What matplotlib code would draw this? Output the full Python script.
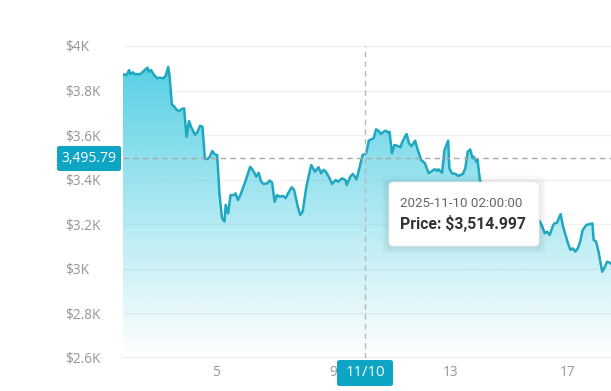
import numpy as np
import pandas as pd
import matplotlib
matplotlib.use("Agg")
import matplotlib.pyplot as plt
import matplotlib.dates as mdates
from matplotlib.patches import FancyBboxPatch
from matplotlib.ticker import FixedLocator

# ---- data ----
# hours since 2025-11-01 00:00
hours = [20, 23, 25, 26, 28, 30, 32, 34, 37, 40, 41, 43, 45, 48, 50, 53, 55, 57, 58, 60,
         62, 64, 66, 68, 70, 72, 74, 76, 79, 81, 83, 85, 87, 89, 91, 93, 95, 97, 99, 101,
         103, 104, 106, 108, 111, 112, 114, 116, 120, 124, 127, 129, 131, 133, 135, 138, 140, 142, 144, 146,
         148, 151, 153, 155, 158, 160, 163, 165, 167, 170, 173, 174, 177, 180, 182, 184, 186, 189, 191, 194,
         196, 199, 202, 203, 206, 208, 211, 213, 216, 218, 219, 221, 223, 225, 227, 229, 231, 233, 235, 237,
         238, 240, 242, 245, 247, 248, 250, 252, 254, 256, 259, 261, 264, 267, 270, 272, 275, 277, 278, 281,
         283, 286, 287, 289, 292, 294, 296, 298, 300, 302, 304, 306, 307, 309, 310, 312, 317, 322, 328, 335,
         341, 348, 355, 361, 363, 365, 367, 369, 372, 373, 375, 378, 380, 382, 384, 386, 388, 390, 392, 394,
         396, 399, 402, 404, 405, 407, 409, 412, 414, 416, 418, 420]
prices = [3873, 3870, 3892, 3874, 3882, 3873, 3874, 3873, 3888, 3903, 3885, 3892, 3873, 3855, 3858, 3855, 3867, 3906, 3870, 3738,
          3728, 3713, 3708, 3717, 3720, 3593, 3663, 3633, 3601, 3615, 3642, 3638, 3493, 3493, 3503, 3529, 3514, 3511, 3331, 3227,
          3212, 3287, 3249, 3331, 3331, 3339, 3309, 3331, 3391, 3458, 3436, 3414, 3431, 3391, 3381, 3384, 3396, 3387, 3301, 3331,
          3324, 3327, 3317, 3339, 3366, 3354, 3279, 3242, 3257, 3369, 3444, 3466, 3436, 3456, 3429, 3444, 3436, 3406, 3381, 3399,
          3391, 3406, 3399, 3376, 3414, 3426, 3402, 3444, 3511, 3515, 3519, 3575, 3581, 3586, 3626, 3620, 3605, 3615, 3620, 3611,
          3615, 3519, 3556, 3551, 3545, 3563, 3586, 3605, 3563, 3551, 3575, 3536, 3488, 3474, 3429, 3436, 3447, 3440, 3447, 3431,
          3533, 3575, 3451, 3429, 3426, 3417, 3421, 3426, 3451, 3526, 3536, 3496, 3503, 3481, 3492, 3396, 3354, 3309, 3327, 3287,
          3264, 3282, 3246, 3212, 3189, 3160, 3167, 3152, 3197, 3204, 3207, 3246, 3189, 3152, 3115, 3085, 3092, 3077, 3092, 3122,
          3174, 3197, 3201, 3204, 3130, 3122, 3077, 2987, 3007, 3032, 3028, 3020]

y_ticks = [2600, 2800, 3000, 3200, 3400, 3600, 3800, 4000]
y_labels = ["$2.6K", "$2.8K", "$3K", "$3.2K", "$3.4K", "$3.6K", "$3.8K", "$4K"]
x_days = [5, 9, 13, 17]

cross_time = "2025-11-10 02:00:00"
cross_price = 3514.997
h_line_price = 3495.79

start = pd.Timestamp("2025-11-01")
times = start + pd.to_timedelta(hours, unit="h")
tnum = mdates.date2num(times)

W, H = 611, 391
fig = plt.figure(figsize=(W / 100, H / 100), dpi=100)


def fx(x):
    return x / W


def fy(y):
    return 1 - y / H


ax = fig.add_axes([fx(123), fy(358), fx(611) - fx(123), fy(46) - fy(358)])
xmax = mdates.date2num(start + pd.Timedelta(hours=419.2))

for s in ax.spines.values():
    s.set_visible(False)
ax.axhline(2600, color="#e4e4e4", lw=1.2, zorder=1)
for v in y_ticks[1:]:
    ax.axhline(v, color="#f0f0f0", lw=1, zorder=0)

# gradient area
line_col = "#1fa8bf"
poly = ax.fill_between(tnum, prices, 2600, color="none", lw=0)
grad = np.linspace(0.0, 1.0, 256).reshape(-1, 1)
rgba = np.zeros((256, 1, 4))
rgba[..., 0] = 0x52 / 255
rgba[..., 1] = 0xcf / 255
rgba[..., 2] = 0xe4 / 255
rgba[..., 3] = (grad ** 1.05) * 0.97
img = ax.imshow(rgba, extent=[tnum[0], tnum[-1], 2600, max(prices)], origin="lower",
                aspect="auto", zorder=2)
img.set_clip_path(poly.get_paths()[0], transform=ax.transData)
ax.plot(tnum, prices, color=line_col, lw=1.8, zorder=3, solid_joinstyle="round")
ax.set_xlim(tnum[0], xmax)
ax.set_ylim(2600, 4000)

# ticks
ax.yaxis.set_major_locator(FixedLocator(y_ticks))
ax.set_yticklabels(y_labels, fontsize=9.8, color="#959595", family="Open Sans", ha="left")
ax.tick_params(axis="y", length=0, pad=41.5)
ax.set_xticks([mdates.date2num(pd.Timestamp(2025, 11, d)) for d in x_days])
ax.set_xticklabels([str(d) for d in x_days], fontsize=9.8, color="#959595", family="Open Sans")
ax.tick_params(axis="x", length=0, pad=5)

# crosshair
ct = mdates.date2num(pd.Timestamp(cross_time))
ax.axvline(ct, color="#b8b8b8", lw=1, ls=(0, (4, 3)), zorder=4)
ax.axhline(h_line_price, color="#a8a8a8", lw=1, ls=(0, (4, 3)), zorder=4)

badge = "#0ea5c4"
# y badge
fig.patches.append(FancyBboxPatch((fx(57), fy(171)), fx(121) - fx(57), fy(146) - fy(171),
                                  boxstyle="round,pad=0,rounding_size=0.005",
                                  transform=fig.transFigure, fc=badge, ec="none", zorder=5))
fig.text(fx(89), fy(158.5), f"{h_line_price:,.2f}", color="white", fontsize=10,
         family="Open Sans", ha="center", va="center", zorder=6)
# x badge
fig.patches.append(FancyBboxPatch((fx(337), fy(386)), fx(393) - fx(337), fy(360) - fy(386),
                                  boxstyle="round,pad=0,rounding_size=0.005",
                                  transform=fig.transFigure, fc=badge, ec="none", zorder=5))
fig.text(fx(365), fy(373), pd.Timestamp(cross_time).strftime("%m/%d"), color="white", fontsize=10.8,
         family="Open Sans", ha="center", va="center", zorder=6)

# tooltip
for i, a in enumerate([0.035, 0.025, 0.018]):
    g = (i + 1) * 2.5
    fig.patches.append(FancyBboxPatch((fx(389 - g), fy(246 + g + 1)), fx(150 + 2 * g), fy(0) - fy(64 + 2 * g),
                                      boxstyle="round,pad=0,rounding_size=0.012",
                                      transform=fig.transFigure, fc="black", alpha=a, ec="none", zorder=7))
fig.patches.append(FancyBboxPatch((fx(389), fy(246)), fx(150), fy(0) - fy(64),
                                  boxstyle="round,pad=0,rounding_size=0.01",
                                  transform=fig.transFigure, fc="white", ec="#f0f0f0", lw=0.6, zorder=8))
fig.text(fx(400), fy(203), cross_time, color="#666666", fontsize=9.6, family="Roboto",
         ha="left", va="center", zorder=9)
fig.text(fx(400), fy(224), f"Price: ${cross_price:,.3f}", color="#333333", fontsize=11.3,
         family="Roboto", weight="bold", ha="left", va="center", zorder=9)

fig.savefig("out.png", dpi=100)
